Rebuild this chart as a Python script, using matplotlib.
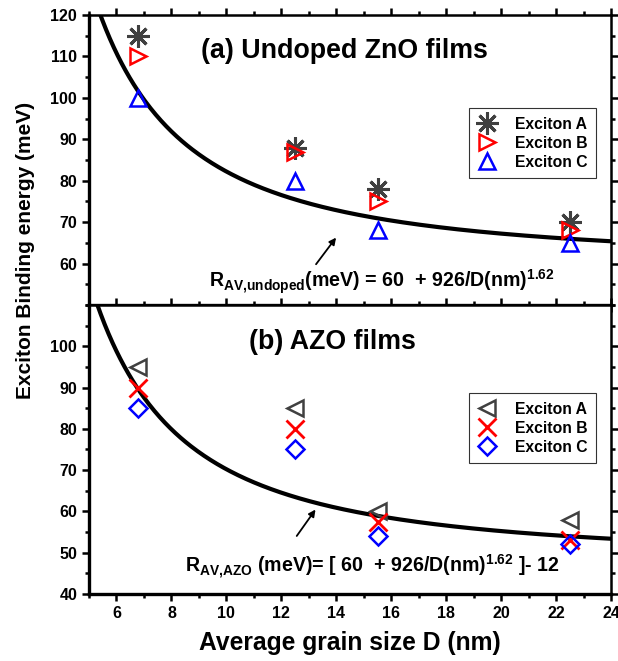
import matplotlib
matplotlib.use('Agg')
import matplotlib.pyplot as plt
from matplotlib.ticker import MultipleLocator
import numpy as np

plt.rcParams['font.family'] = ['Liberation Sans', 'DejaVu Sans']
plt.rcParams['font.weight'] = 'bold'
plt.rcParams['mathtext.fontset'] = 'custom'
plt.rcParams['mathtext.rm'] = 'Liberation Sans:bold'
plt.rcParams['mathtext.bf'] = 'Liberation Sans:bold'
plt.rcParams['mathtext.it'] = 'Liberation Sans:bold'

# grain sizes (nm)
grain_size = [6.8, 12.5, 15.5, 22.5]

# (a) undoped ZnO binding energies (meV)
undoped_a = [115, 88, 78, 70]
undoped_b = [110, 87, 75, 68]
undoped_c = [100, 80, 68, 65]

# (b) AZO binding energies (meV)
azo_a = [95, 85, 60, 58]
azo_b = [90, 80, 57.5, 53]
azo_c = [85, 75, 54, 52]

# model: R = 60 + 926 / D^1.62, AZO shifted by -12
r0, coef, power, azo_shift = 60, 926, 1.62, 12


def style_axis(ax, ylo, yhi, yticks):
    ax.set_xlim(5, 24)
    ax.set_ylim(ylo, yhi)
    ax.set_yticks(yticks)
    ax.xaxis.set_major_locator(MultipleLocator(2))
    ax.xaxis.set_minor_locator(MultipleLocator(1))
    ax.yaxis.set_minor_locator(MultipleLocator(5))
    ax.tick_params(which='both', direction='out', top=True, right=True,
                   labelsize=11.5, width=1.8)
    ax.tick_params(which='major', length=5)
    ax.tick_params(which='minor', length=3)
    for side in ['top', 'right']:
        ax.spines[side].set_linewidth(1.8)
    for side in ['bottom', 'left']:
        ax.spines[side].set_linewidth(2.4)
    for lbl in ax.get_yticklabels() + ax.get_xticklabels():
        lbl.set_fontweight('bold')


def add_legend(ax, top):
    leg = ax.legend(loc='upper right', bbox_to_anchor=(0.971, top), fontsize=11.3,
                    frameon=True, fancybox=False, edgecolor='black',
                    borderaxespad=0, borderpad=0.55, handlelength=1.3,
                    handletextpad=1.1, labelspacing=0.25)
    leg.get_frame().set_linewidth(0.8)
    for t in leg.get_texts():
        t.set_fontweight('bold')
    return leg


fig = plt.figure(figsize=(6.18, 6.61), dpi=100)
ax1 = fig.add_axes([0.144, 0.5386, 0.845, 0.4387])
ax2 = fig.add_axes([0.144, 0.1014, 0.845, 0.4372], sharex=ax1)

d = np.linspace(5.0, 24, 400)
fit = r0 + coef / d ** power

# top panel
ax1.plot(d, fit, color='black', lw=3)
ax1.plot(grain_size, undoped_a, ls='none', marker=(8, 2, 0), ms=16, mew=2.2,
         color='#404040', label='Exciton A')
ax1.plot(grain_size, undoped_b, ls='none', marker='>', ms=11, mew=1.8,
         mfc='none', mec='red', label='Exciton B')
ax1.plot(grain_size, undoped_c, ls='none', marker='^', ms=11, mew=1.8,
         mfc='none', mec='blue', label='Exciton C')
style_axis(ax1, 50, 120, np.arange(60, 121, 10))
plt.setp(ax1.get_xticklabels(), visible=False)
ax1.text(14.3, 111.3, '(a) Undoped ZnO films', fontsize=19.3, fontweight='bold',
         ha='center', va='center')
ax1.annotate('', xy=(14.05, 66.8), xytext=(13.2, 59.3),
             arrowprops=dict(arrowstyle='-|>', color='black', lw=1.3,
                             mutation_scale=10))
ax1.text(9.35, 55.7,
         r'R$_{AV{,}undoped}$(meV) = 60  + 926/D(nm)$^{1.62}$',
         fontsize=14.1, fontweight='bold', ha='left', va='center')
add_legend(ax1, 0.679)

# bottom panel
ax2.plot(d, fit - azo_shift, color='black', lw=3)
ax2.plot(grain_size, azo_a, ls='none', marker='<', ms=12, mew=1.8,
         mfc='none', mec='#404040', label='Exciton A')
ax2.plot(grain_size, azo_b, ls='none', marker='x', ms=13, mew=2,
         color='red', label='Exciton B')
ax2.plot(grain_size, azo_c, ls='none', marker='D', ms=9, mew=1.8,
         mfc='none', mec='blue', label='Exciton C')
style_axis(ax2, 40, 110, np.arange(40, 101, 10))
ax2.text(13.85, 101, '(b) AZO films', fontsize=19.3, fontweight='bold',
         ha='center', va='center')
ax2.annotate('', xy=(13.3, 61.0), xytext=(12.5, 53.5),
             arrowprops=dict(arrowstyle='-|>', color='black', lw=1.3,
                             mutation_scale=10))
ax2.text(8.5, 46.5,
         r'R$_{AV{,}AZO}$ (meV)= [ 60  + 926/D(nm)$^{1.62}$ ]- 12',
         fontsize=14.1, fontweight='bold', ha='left', va='center')
add_legend(ax2, 0.695)

fig.text(0.566, 1 - 643 / 661, 'Average grain size D (nm)', fontsize=17.7,
         fontweight='bold', ha='center', va='center')
fig.text(0.042, 1 - 250 / 661, 'Exciton Binding energy (meV)', rotation=90,
         fontsize=15, fontweight='bold', ha='center', va='center')

plt.savefig('out.png', dpi=100)
